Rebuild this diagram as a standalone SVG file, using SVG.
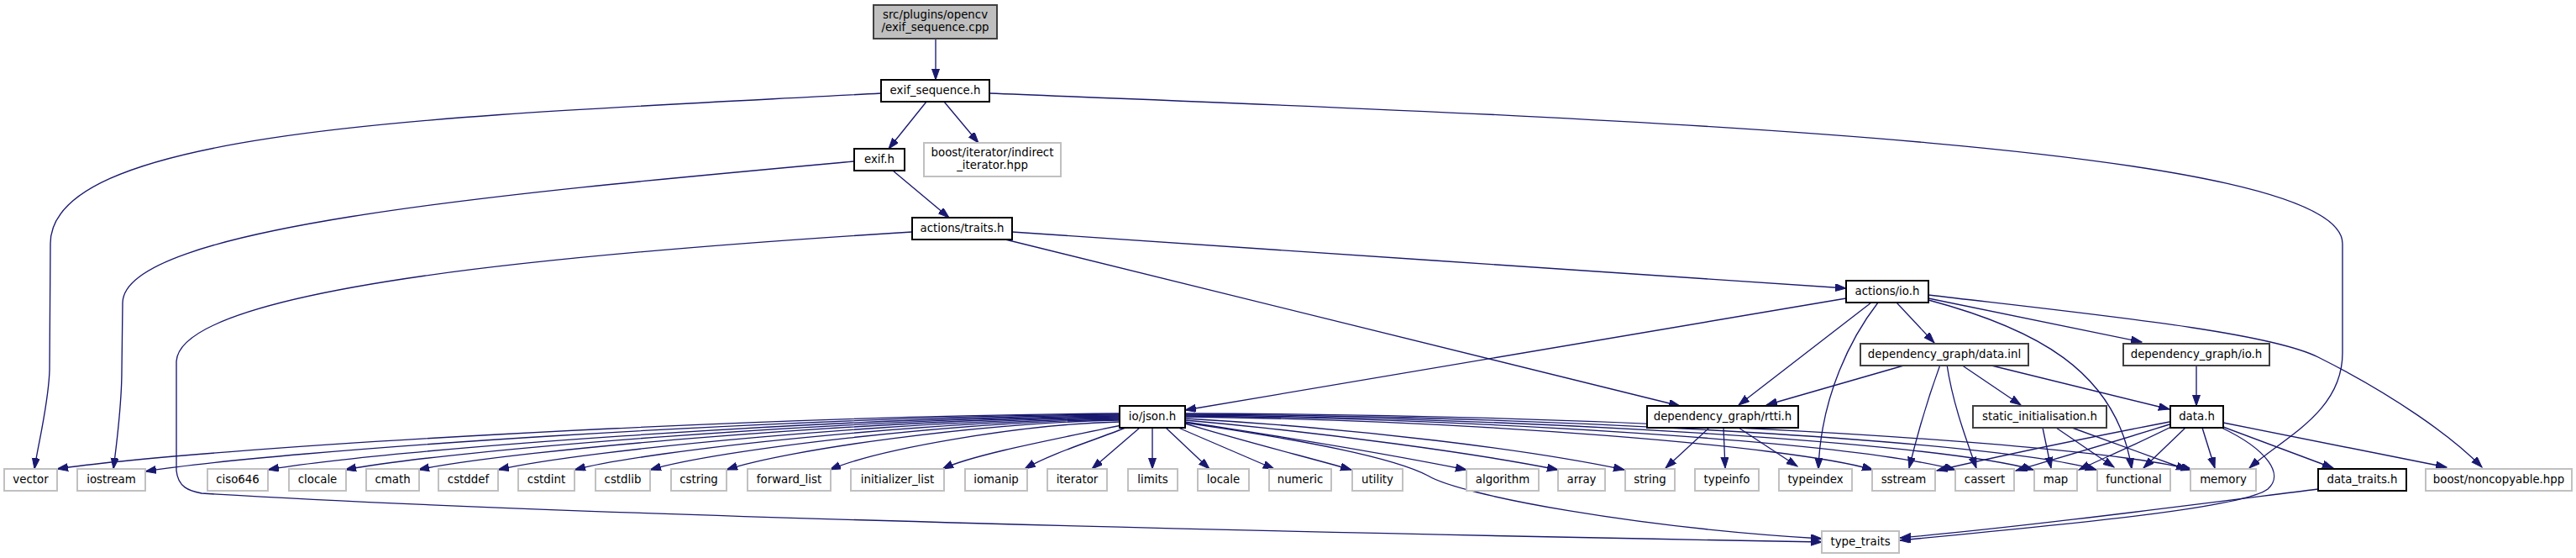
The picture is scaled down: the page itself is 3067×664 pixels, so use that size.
<svg xmlns="http://www.w3.org/2000/svg" width="3067" height="664" viewBox="0 0 3067 664">
<defs>
<style>
.n rect{fill:#ffffff;stroke:#000000;stroke-width:2}
.n.g rect{stroke:#404040}
.n.x rect{stroke:#c0c0c0}
.n.r rect{fill:#bfbfbf;stroke:#404040}
.n text{font-family:"DejaVu Sans",sans-serif;font-size:13.33px;fill:#000000;text-anchor:middle}
#edges path{fill:none;stroke:#191970;stroke-width:1.35;marker-end:url(#a)}
</style>
<marker id="a" markerWidth="14" markerHeight="10" refX="13" refY="4.5" orient="auto" markerUnits="userSpaceOnUse"><path d="M0,0 L13,4.5 L0,9 z" fill="#191970" stroke="#191970" stroke-width="1"/></marker>
</defs>
<rect width="3067" height="664" fill="#ffffff"/>
<g id="edges">
<path d="M1114,46 L1114,95"/>
<path d="M1103,121 L1058,177"/>
<path d="M1124,121 L1165,170"/>
<path d="M1049,111 C550,138 60,150 60,290 L59,440 C58,480 45,530 41,558"/>
<path d="M1178,111 C1900,140 2789,170 2789,290 L2789,420 C2789,490 2720,520 2678,557"/>
<path d="M1063,203 L1130,259"/>
<path d="M1017,192 C600,230 148,270 146,360 L145,440 C145,480 140,520 135,558"/>
<path d="M1205,276 C1500,296 1900,323 2198,343"/>
<path d="M1197,285 L2000,483"/>
<path d="M1086,276 C700,300 215,340 210,430 L210,560 C212,580 225,584 240,587 C700,615 1600,635 2169,645"/>
<path d="M2198,355 L1411,488"/>
<path d="M2228,360 L2070,482"/>
<path d="M2236,360 C2205,400 2168,470 2165,558"/>
<path d="M2258,360 L2303,408"/>
<path d="M2296,357 C2420,390 2520,440 2538,558"/>
<path d="M2296,355 L2550,407"/>
<path d="M2296,351 C2500,375 2700,395 2760,425 C2850,470 2920,520 2955,556"/>
<path d="M2270,434 L2103,482"/>
<path d="M2310,434 C2295,475 2282,520 2273,557"/>
<path d="M2318,434 C2325,480 2340,520 2353,557"/>
<path d="M2335,434 L2406,482"/>
<path d="M2367,434 L2583,487"/>
<path d="M2615,434 L2615,483"/>
<path d="M2583,502 C2480,522 2370,545 2306,560"/>
<path d="M2583,505 C2510,528 2440,548 2400,560"/>
<path d="M2585,508 C2545,528 2505,545 2475,559"/>
<path d="M2602,509 L2552,557"/>
<path d="M2622,509 L2637,557"/>
<path d="M2645,509 C2700,535 2720,565 2700,582 C2670,605 2450,625 2262,643"/>
<path d="M2647,508 L2778,557"/>
<path d="M2647,503 L2913,556"/>
<path d="M2432,509 L2442,557"/>
<path d="M2448,509 L2517,556"/>
<path d="M2467,509 L2604,559"/>
<path d="M2760,582 C2600,602 2400,628 2262,640"/>
<path d="M2035,509 L1983,557"/>
<path d="M2052,509 L2054,557"/>
<path d="M2070,509 L2140,555"/>
<path d="M1333,492 C890,495 235,533 68,558"/>
<path d="M1333,493 C927,496 327,536 173,561"/>
<path d="M1333,494 C978,497 456,535 319,559"/>
<path d="M1333,495 C1010,498 537,535 411,559"/>
<path d="M1333,496 C1041,499 613,535 498,559"/>
<path d="M1333,497 C1074,500 697,535 593,559"/>
<path d="M1333,498 C1106,501 777,535 684,559"/>
<path d="M1333,499 C1137,502 856,535 774,559"/>
<path d="M1333,500 C1169,503 936,535 865,559"/>
<path d="M1333,502 C1212,505 1044,535 988,559"/>
<path d="M1335,506 C1270,520 1160,540 1122,558"/>
<path d="M1340,509 C1300,525 1250,540 1220,558"/>
<path d="M1357,509 L1300,558"/>
<path d="M1372,509 L1372,558"/>
<path d="M1388,509 L1440,558"/>
<path d="M1403,509 L1517,558"/>
<path d="M1411,504 C1480,525 1560,545 1609,559"/>
<path d="M1411,502 C1530,520 1660,542 1746,559"/>
<path d="M1411,500 C1580,515 1760,540 1855,559"/>
<path d="M1411,498 C1620,510 1820,535 1934,559"/>
<path d="M1411,496 C1750,500 2130,530 2230,559"/>
<path d="M1411,495 C1750,498 2200,525 2328,559"/>
<path d="M1411,494 C1800,497 2300,525 2421,559"/>
<path d="M1411,493 C1850,495 2380,525 2496,559"/>
<path d="M1411,492 C1900,493 2480,525 2610,559"/>
<path d="M1411,503 C1560,525 1660,545 1700,566 C1740,590 1950,628 2169,641"/>
</g>
<g id="n_root" class="n r"><rect x="1040" y="6" width="147" height="40"/><text x="1113.5" y="22">src/plugins/opencv</text><text x="1113.5" y="37">/exif_sequence.cpp</text></g>
<g id="n_exif_sequence_h" class="n"><rect x="1049" y="95" width="129" height="26"/><text x="1113.5" y="111.5">exif_sequence.h</text></g>
<g id="n_exif_h" class="n"><rect x="1017" y="177" width="60" height="26"/><text x="1047" y="193.5">exif.h</text></g>
<g id="n_indirect_iterator" class="n x"><rect x="1100" y="170" width="163" height="40"/><text x="1181.5" y="186">boost/iterator/indirect</text><text x="1181.5" y="201">_iterator.hpp</text></g>
<g id="n_actions_traits_h" class="n"><rect x="1086" y="259" width="119" height="26"/><text x="1145.5" y="275.5">actions/traits.h</text></g>
<g id="n_actions_io_h" class="n"><rect x="2198" y="334" width="98" height="26"/><text x="2247" y="350.5">actions/io.h</text></g>
<g id="n_data_inl" class="n g"><rect x="2215" y="409" width="200" height="26"/><text x="2315" y="425.5">dependency_graph/data.inl</text></g>
<g id="n_dg_io_h" class="n g"><rect x="2528" y="409" width="174" height="26"/><text x="2615" y="425.5">dependency_graph/io.h</text></g>
<g id="n_io_json_h" class="n"><rect x="1333" y="483" width="78" height="26"/><text x="1372" y="499.5">io/json.h</text></g>
<g id="n_rtti_h" class="n"><rect x="1961" y="483" width="180" height="26"/><text x="2051" y="499.5">dependency_graph/rtti.h</text></g>
<g id="n_static_init_h" class="n g"><rect x="2349" y="483" width="159" height="26"/><text x="2428.5" y="499.5">static_initialisation.h</text></g>
<g id="n_data_h" class="n"><rect x="2584" y="483" width="63" height="26"/><text x="2615.5" y="499.5">data.h</text></g>
<g id="n_vector" class="n x"><rect x="5" y="558" width="63" height="26"/><text x="36.5" y="574.5">vector</text></g>
<g id="n_iostream" class="n x"><rect x="92" y="558" width="81" height="26"/><text x="132.5" y="574.5">iostream</text></g>
<g id="n_ciso646" class="n x"><rect x="247" y="558" width="72" height="26"/><text x="283" y="574.5">ciso646</text></g>
<g id="n_clocale" class="n x"><rect x="344" y="558" width="68" height="26"/><text x="378" y="574.5">clocale</text></g>
<g id="n_cmath" class="n x"><rect x="436" y="558" width="63" height="26"/><text x="467.5" y="574.5">cmath</text></g>
<g id="n_cstddef" class="n x"><rect x="522" y="558" width="71" height="26"/><text x="557.5" y="574.5">cstddef</text></g>
<g id="n_cstdint" class="n x"><rect x="617" y="558" width="67" height="26"/><text x="650.5" y="574.5">cstdint</text></g>
<g id="n_cstdlib" class="n x"><rect x="709" y="558" width="65" height="26"/><text x="741.5" y="574.5">cstdlib</text></g>
<g id="n_cstring" class="n x"><rect x="799" y="558" width="66" height="26"/><text x="832" y="574.5">cstring</text></g>
<g id="n_forward_list" class="n x"><rect x="890" y="558" width="99" height="26"/><text x="939.5" y="574.5">forward_list</text></g>
<g id="n_initializer_list" class="n x"><rect x="1013" y="558" width="111" height="26"/><text x="1068.5" y="574.5">initializer_list</text></g>
<g id="n_iomanip" class="n x"><rect x="1149" y="558" width="74" height="26"/><text x="1186" y="574.5">iomanip</text></g>
<g id="n_iterator" class="n x"><rect x="1247" y="558" width="71" height="26"/><text x="1282.5" y="574.5">iterator</text></g>
<g id="n_limits" class="n x"><rect x="1343" y="558" width="59" height="26"/><text x="1372.5" y="574.5">limits</text></g>
<g id="n_locale" class="n x"><rect x="1426" y="558" width="61" height="26"/><text x="1456.5" y="574.5">locale</text></g>
<g id="n_numeric" class="n x"><rect x="1511" y="558" width="74" height="26"/><text x="1548" y="574.5">numeric</text></g>
<g id="n_utility" class="n x"><rect x="1610" y="558" width="60" height="26"/><text x="1640" y="574.5">utility</text></g>
<g id="n_algorithm" class="n x"><rect x="1746" y="558" width="86" height="26"/><text x="1789" y="574.5">algorithm</text></g>
<g id="n_array" class="n x"><rect x="1855" y="558" width="56" height="26"/><text x="1883" y="574.5">array</text></g>
<g id="n_string" class="n x"><rect x="1935" y="558" width="59" height="26"/><text x="1964.5" y="574.5">string</text></g>
<g id="n_typeinfo" class="n x"><rect x="2018" y="558" width="76" height="26"/><text x="2056" y="574.5">typeinfo</text></g>
<g id="n_typeindex" class="n x"><rect x="2118" y="558" width="87" height="26"/><text x="2161.5" y="574.5">typeindex</text></g>
<g id="n_sstream" class="n x"><rect x="2229" y="558" width="75" height="26"/><text x="2266.5" y="574.5">sstream</text></g>
<g id="n_cassert" class="n x"><rect x="2328" y="558" width="70" height="26"/><text x="2363" y="574.5">cassert</text></g>
<g id="n_map" class="n x"><rect x="2422" y="558" width="51" height="26"/><text x="2447.5" y="574.5">map</text></g>
<g id="n_functional" class="n x"><rect x="2497" y="558" width="87" height="26"/><text x="2540.5" y="574.5">functional</text></g>
<g id="n_memory" class="n x"><rect x="2608" y="558" width="78" height="26"/><text x="2647" y="574.5">memory</text></g>
<g id="n_data_traits_h" class="n"><rect x="2760" y="558" width="105" height="26"/><text x="2812.5" y="574.5">data_traits.h</text></g>
<g id="n_noncopyable" class="n x"><rect x="2888" y="558" width="174" height="26"/><text x="2975" y="574.5">boost/noncopyable.hpp</text></g>
<g id="n_type_traits" class="n x"><rect x="2169" y="632" width="92" height="26"/><text x="2215" y="648.5">type_traits</text></g>
</svg>
